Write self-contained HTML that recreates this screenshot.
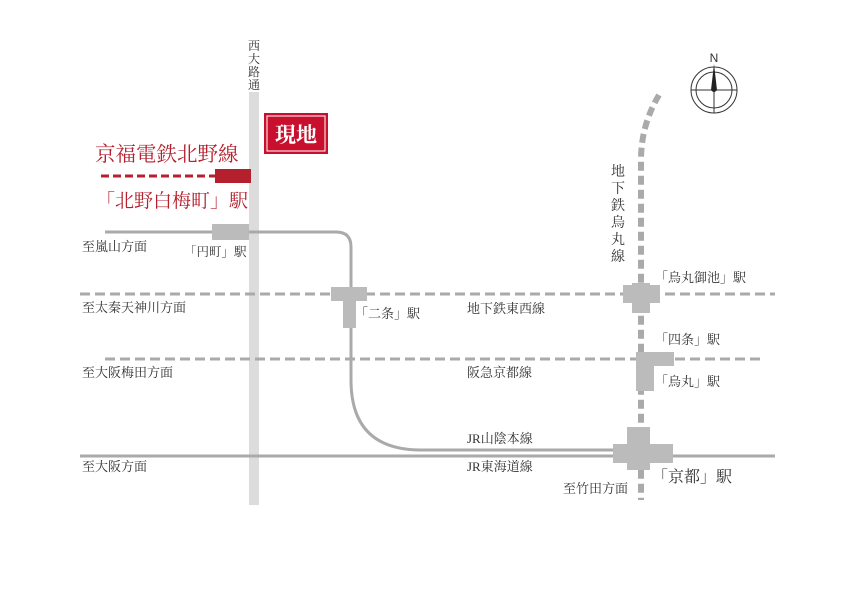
<!DOCTYPE html>
<html><head><meta charset="utf-8"><style>
html,body{margin:0;padding:0;background:#fff;width:842px;height:595px;overflow:hidden}
svg{display:block}
text{font-family:"Liberation Serif","Noto Serif CJK SC",serif;fill:#333}
</style></head><body>
<svg width="842" height="595" viewBox="0 0 842 595">
<rect x="249" y="92" width="10" height="413" fill="#dcdcdc"/>
<text x="254" y="50" font-size="12" text-anchor="middle">西</text>
<text x="254" y="63" font-size="12" text-anchor="middle">大</text>
<text x="254" y="76" font-size="12" text-anchor="middle">路</text>
<text x="254" y="89" font-size="12" text-anchor="middle">通</text>

<rect x="264" y="113" width="64" height="41" fill="#c8102e"/>
<rect x="267" y="116" width="58" height="35" fill="none" stroke="#fff" stroke-width="1"/>
<text x="296" y="142" font-size="21" font-weight="bold" text-anchor="middle" style="fill:#fff">現地</text>

<text x="95" y="161" font-size="20.5" style="fill:#b5202e">京福電鉄北野線</text>
<line x1="101" y1="176" x2="215" y2="176" stroke="#b5202e" stroke-width="3" stroke-dasharray="8,4"/>
<rect x="215" y="169" width="36" height="14" fill="#b5202e"/>
<text x="96" y="207" font-size="19" style="fill:#b5202e">「北野白梅町」駅</text>

<path d="M105 232 H336 Q351 232 351 247 V380 Q351 450 421 450 H640" fill="none" stroke="#aaa" stroke-width="3"/>
<line x1="80" y1="456" x2="775" y2="456" stroke="#aaa" stroke-width="3"/>

<line x1="80" y1="294" x2="775" y2="294" stroke="#aaa" stroke-width="3" stroke-dasharray="10,5"/>
<line x1="105" y1="359" x2="762" y2="359" stroke="#aaa" stroke-width="3" stroke-dasharray="10,5"/>
<path d="M659 95 Q641 125 641 160 V500" fill="none" stroke="#aaa" stroke-width="6" stroke-dasharray="9,5"/>

<rect x="212" y="224" width="37" height="16" fill="#bbb"/>
<rect x="331" y="287" width="36" height="14" fill="#bbb"/>
<rect x="343" y="287" width="13" height="41" fill="#bbb"/>
<rect x="623" y="285" width="37" height="18" fill="#bbb"/>
<rect x="632" y="283" width="18" height="30" fill="#bbb"/>
<rect x="636" y="352" width="38" height="14" fill="#bbb"/>
<rect x="636" y="352" width="18" height="39" fill="#bbb"/>
<rect x="613" y="444" width="60" height="19" fill="#bbb"/>
<rect x="627" y="427" width="23" height="43" fill="#bbb"/>

<g stroke="#333" fill="none" stroke-width="1">
<circle cx="714" cy="90" r="23"/>
<circle cx="714" cy="90" r="18"/>
<line x1="691" y1="90" x2="737" y2="90"/>
<line x1="714" y1="90" x2="714" y2="113"/>
</g>
<path d="M714 64 L717 90 Q714 94 711 90 Z" fill="#222"/>
<text x="714" y="62" font-size="12" text-anchor="middle" style="font-family:'Liberation Sans',sans-serif">N</text>

<g font-size="13">
<text x="82" y="251">至嵐山方面</text>
<text x="184" y="256" font-size="12.5">「円町」駅</text>
<text x="82" y="312">至太秦天神川方面</text>
<text x="355" y="318">「二条」駅</text>
<text x="467" y="313">地下鉄東西線</text>
<text x="82" y="377">至大阪梅田方面</text>
<text x="467" y="377">阪急京都線</text>
<text x="467" y="443">JR山陰本線</text>
<text x="467" y="471">JR東海道線</text>
<text x="82" y="471">至大阪方面</text>
<text x="563" y="493">至竹田方面</text>
<text x="655" y="282">「烏丸御池」駅</text>
<text x="655" y="344">「四条」駅</text>
<text x="655" y="386">「烏丸」駅</text>
</g>
<text x="652" y="482" font-size="16">「京都」駅</text>
<g font-size="14" text-anchor="middle">
<text x="618" y="176">地</text>
<text x="618" y="193">下</text>
<text x="618" y="210">鉄</text>
<text x="618" y="227">烏</text>
<text x="618" y="244">丸</text>
<text x="618" y="261">線</text>
</g>
</svg>
</body></html>
